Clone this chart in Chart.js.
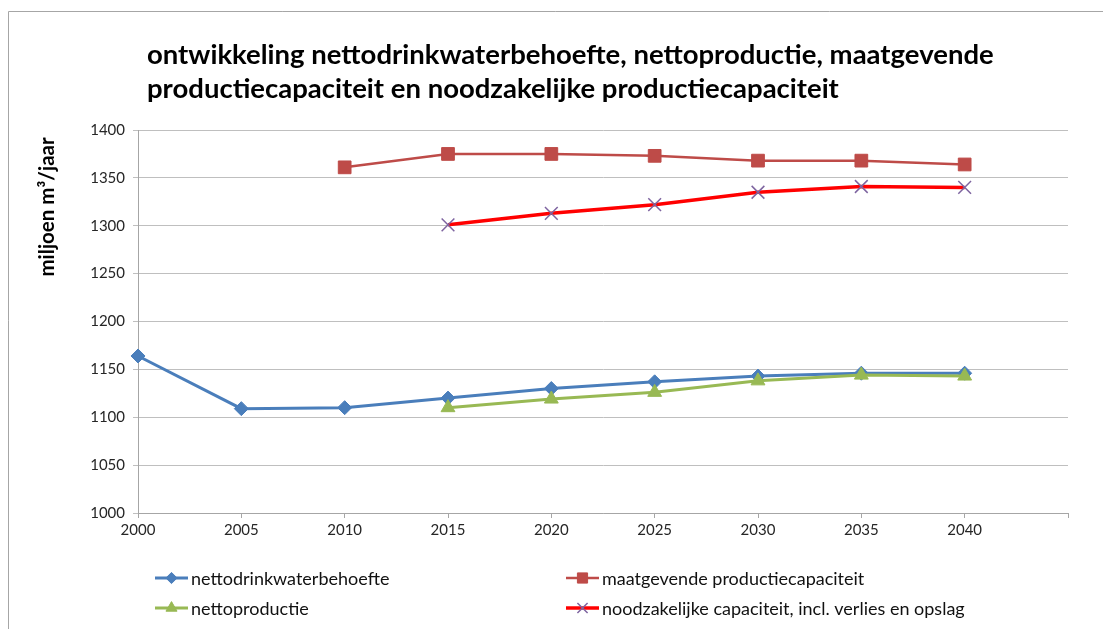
<!DOCTYPE html>
<html>
<head>
<meta charset="utf-8">
<script src="https://cdn.jsdelivr.net/npm/chart.js@4/dist/chart.umd.min.js"></script>
<style>
  html, body { margin: 0; padding: 0; background: #fff; }
  #wrap { width: 1103px; height: 629px; position: relative; }
</style>
</head>
<body>
<div id="wrap"><canvas id="c" width="1103" height="629"></canvas></div>
<script>
// data
const years = ['2000', '2005', '2010', '2015', '2020', '2025', '2030', '2035', '2040', ''];
const nettodrinkwater = [1164, 1109, 1110, 1120, 1130, 1137, 1143, 1146, 1146, null];
const maatgevend = [null, null, 1361, 1375, 1375, 1373, 1368, 1368, 1364, null];
const nettoproductie = [null, null, null, 1110, 1119, 1126, 1138, 1144, 1143, null];
const noodzakelijk = [null, null, null, 1301, 1313, 1322, 1335, 1341, 1340, null];

const titleLines = [
  'ontwikkeling nettodrinkwaterbehoefte, nettoproductie, maatgevende',
  'productiecapaciteit en noodzakelijke productiecapaciteit'
];
const yTitle = 'miljoen m³/jaar';

const FONT = 'Lato, "Open Sans", sans-serif';

const datasets = [
  {
    label: 'nettodrinkwaterbehoefte', data: nettodrinkwater, order: 4,
    borderColor: '#4A7EBB', backgroundColor: '#4A7EBB', borderWidth: 3,
    pointStyle: 'rectRot', pointRadius: 7, pointBorderWidth: 1
  },
  {
    label: 'maatgevende productiecapaciteit', data: maatgevend, order: 3,
    borderColor: '#BE4B48', backgroundColor: '#BE4B48', borderWidth: 2.5,
    pointStyle: 'rect', pointRadius: 9, pointBorderWidth: 1
  },
  {
    label: 'nettoproductie', data: nettoproductie, order: 2,
    borderColor: '#98B954', backgroundColor: '#98B954', borderWidth: 3,
    pointStyle: 'triangle', pointRadius: 8, pointBorderWidth: 1
  },
  {
    label: 'noodzakelijke capaciteit, incl. verlies en opslag', data: noodzakelijk, order: 1,
    borderColor: '#FF0000', backgroundColor: '#7E64A0', borderWidth: 3.5,
    pointStyle: 'crossRot', pointRadius: 9, pointBorderWidth: 1.5,
    pointBorderColor: '#7E64A0'
  }
];

// frame, title, rotated y title and the two-column legend
const decor = {
  id: 'decor',
  afterDraw(chart) {
    const ctx = chart.ctx;
    ctx.save();
    ctx.strokeStyle = '#A6A6A6';
    ctx.lineWidth = 1;
    ctx.beginPath();
    ctx.moveTo(8.5, 629);
    ctx.lineTo(8.5, 11.5);
    ctx.lineTo(1103, 11.5);
    ctx.stroke();

    ctx.fillStyle = '#000';
    ctx.font = 'bold 27.5px ' + FONT;
    ctx.textBaseline = 'middle';
    ctx.textAlign = 'left';
    ctx.fillText(titleLines[0], 147, 55);
    ctx.fillText(titleLines[1], 147, 89);

    ctx.save();
    ctx.translate(47, 207);
    ctx.rotate(-Math.PI / 2);
    ctx.textAlign = 'center';
    ctx.font = 'bold 20.5px ' + FONT;
    ctx.fillText(yTitle, 0, 0);
    ctx.restore();

    const slots = [[155, 578], [566, 578], [155, 608], [566, 608]];
    ctx.font = '18px ' + FONT;
    datasets.forEach((ds, i) => {
      const [x, y] = slots[i];
      ctx.strokeStyle = ds.borderColor;
      ctx.lineWidth = ds.borderWidth;
      ctx.beginPath();
      ctx.moveTo(x, y);
      ctx.lineTo(x + 33, y);
      ctx.stroke();
      ctx.fillStyle = ds.backgroundColor;
      ctx.strokeStyle = ds.pointBorderColor || ds.borderColor;
      ctx.lineWidth = ds.pointBorderWidth;
      Chart.helpers.drawPoint(ctx, {
        pointStyle: ds.pointStyle, radius: ds.pointRadius * 0.8, rotation: 0,
        borderWidth: ds.pointBorderWidth
      }, x + 16.5, y);
      ctx.fillStyle = '#111';
      ctx.textAlign = 'left';
      ctx.fillText(ds.label, x + 36, y + 1);
    });
    ctx.restore();
  }
};

new Chart(document.getElementById('c'), {
  type: 'line',
  data: { labels: years, datasets: datasets },
  plugins: [decor],
  options: {
    responsive: false,
    animation: false,
    spanGaps: false,
    layout: { padding: { top: 130, right: 35, left: 0, bottom: 0 } },
    plugins: { legend: { display: false }, tooltip: { enabled: false }, title: { display: false } },
    elements: { line: { tension: 0 } },
    scales: {
      x: {
        offset: false,
        afterFit(scale) { scale.height = 116; },
        grid: { drawOnChartArea: false, drawTicks: true, tickLength: 5, color: '#A6A6A6' },
        border: { color: '#A6A6A6' },
        ticks: { color: '#262626', font: { family: FONT, size: 15 }, padding: 3, maxRotation: 0, autoSkip: false }
      },
      y: {
        min: 1000, max: 1400,
        afterFit(scale) { scale.width = 138; },
        grid: { color: '#BFBFBF', tickLength: 5 },
        border: { color: '#A6A6A6' },
        ticks: {
          stepSize: 50, color: '#262626', font: { family: FONT, size: 15 }, padding: 8,
          callback: v => String(v)
        }
      }
    }
  }
});
</script>
</body>
</html>
